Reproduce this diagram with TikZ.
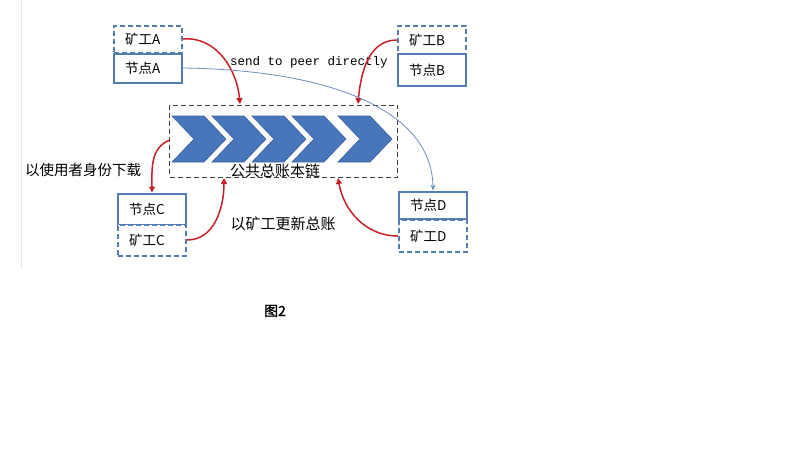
\documentclass[tikz,border=0pt]{standalone}
\usepackage{fontspec}
\setmainfont{Noto Sans CJK SC}
\newfontfamily\cjk{Noto Sans CJK SC}
\newfontfamily\cjkbold[FakeBold=1.5]{Noto Sans CJK SC}
\newfontfamily\monofnt{Liberation Mono}
\usetikzlibrary{arrows.meta}
\definecolor{boxblue}{RGB}{84,124,178}
\definecolor{chevfill}{RGB}{72,118,186}
\definecolor{chevedge}{RGB}{58,96,156}
\definecolor{arrowred}{RGB}{200,32,40}
\definecolor{thinblue}{RGB}{110,140,185}
\tikzset{
  solidbox/.style={draw=boxblue, line width=2pt, fill=white, inner sep=0pt,
    minimum width=68pt, text width=46pt, align=left,
    font=\cjk\fontsize{13.5}{13.5}\selectfont},
  dashbox/.style={solidbox, dash pattern=on 5pt off 3pt},
  chainbox/.style={draw=black!75, line width=1pt, dash pattern=on 5pt off 3pt, inner sep=0pt,
    minimum width=228pt, minimum height=72pt},
  chev/.style={fill=chevfill, draw=chevedge, line width=0.6pt, line join=miter},
  redarrow/.style={draw=arrowred, line width=1.5pt, -{Triangle[length=6pt,width=6pt]}},
  bluearrow/.style={draw=thinblue, line width=0.8pt, -{Stealth[length=6pt,width=5pt]}},
  lbl/.style={inner sep=0pt, font=\cjk\fontsize{14.5}{14.5}\selectfont},
}
\begin{document}
\begin{tikzpicture}[x=1pt,y=-1pt]
\path[use as bounding box] (0,0) rectangle (800,471);
\draw[black!10, line width=1pt] (21,0) -- (21,268);

% chain box and chevrons
\node[chainbox] (chain) at (283.5,141) {};
\foreach \x in {172,212,252,292,338}
  \draw[chev] (\x,116) -- ++(32,0) -- ++(22,23) -- ++(-22,23) -- ++(-32,0) -- ++(22,-23) -- cycle;
\node[lbl, font=\cjk\fontsize{15}{15}\selectfont] (chaintxt) at (275,171) {公共总账本链};

% boxes
\node[dashbox, minimum height=27pt] (mA) at (148,39) {矿工A};
\node[solidbox, minimum height=29pt] (nA) at (148,68) {节点A};
\node[dashbox, minimum height=28pt] (mB) at (432,40) {矿工B};
\node[solidbox, minimum height=32pt] (nB) at (432,70) {节点B};
\node[solidbox, minimum height=31pt] (nC) at (152,209) {节点C};
\node[dashbox, minimum height=31pt] (mC) at (152,240) {矿工C};
\node[solidbox, minimum height=27pt] (nD) at (433,205) {节点D};
\node[dashbox, minimum height=32pt] (mD) at (433,236) {矿工D};

% labels
\node[inner sep=0pt, font=\monofnt\fontsize{12.5}{12.5}\selectfont] (send) at (309,62) {send to peer directly};
\node[lbl] (dl) at (83,170) {以使用者身份下载};
\node[lbl, font=\cjk\fontsize{15}{15}\selectfont] (upd) at (283,224) {以矿工更新总账};
\node[inner sep=0pt, font=\cjkbold\fontsize{14}{14}\selectfont] (fig) at (275,311) {图2};

% anchor points on the chain box
\coordinate (tA) at (240,104);
\coordinate (tB) at (358,104);
\coordinate (sC) at (170,140);
\coordinate (tC) at (224,178);
\coordinate (tD) at (338,178);

% connectors
\draw[redarrow] (mA.east) to[out=5,in=95] (tA);
\draw[redarrow] (mB.west) to[out=180,in=85] (tB);
\draw[redarrow] (sC) to[out=200,in=90] (nC.north);
\draw[redarrow] (mC.east) to[out=0,in=-90] (tC);
\draw[redarrow] (mD.west) to[out=180,in=-80] (tD);
\draw[bluearrow] (nA.east) .. controls (330,70) and (432,110) .. (nD.north);
\end{tikzpicture}
\end{document}
